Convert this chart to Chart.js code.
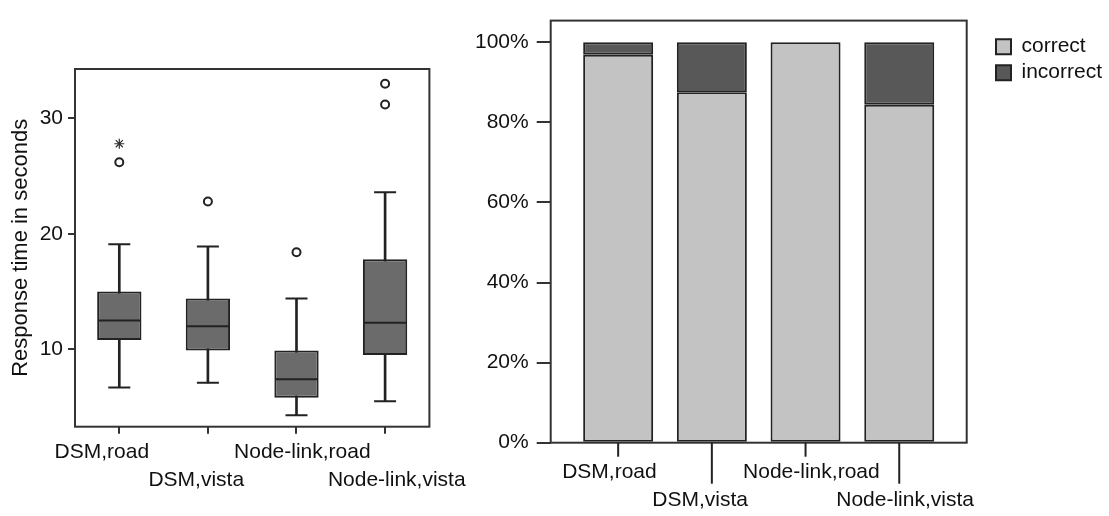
<!DOCTYPE html>
<html>
<head>
  <meta charset="UTF-8">
  <title>Response time and accuracy</title>
  <script src="https://cdn.jsdelivr.net/npm/chart.js"></script>
  <style>
    body { margin: 0; background: #fff; }
    #wrap { position: relative; width: 1109px; height: 516px; }
    #box { position: absolute; left: 0; top: 0; }
    #acc { position: absolute; left: 465px; top: 0; }
  </style>
</head>
<body>
  <div id="wrap">
    <canvas id="box" width="475" height="516"></canvas>
    <canvas id="acc" width="644" height="516"></canvas>
  </div>

  <script>
    const conditions = ['DSM,road', 'DSM,vista', 'Node-link,road', 'Node-link,vista'];

    // left: response time box plots (seconds)
    const whiskerLow = [6.7, 7.1, 4.3, 5.5];
    const q1 = [10.8, 9.9, 5.8, 9.5];
    const median = [12.5, 12.0, 7.4, 12.3];
    const q3 = [15.0, 14.4, 9.9, 17.8];
    const whiskerHigh = [19.1, 18.9, 14.4, 23.6];
    const outliers = [
      { x: 'DSM,road', y: 26.2 },
      { x: 'DSM,vista', y: 22.8 },
      { x: 'Node-link,road', y: 18.4 },
      { x: 'Node-link,vista', y: 31.2 },
      { x: 'Node-link,vista', y: 33.0 }
    ];
    const extremes = [{ x: 'DSM,road', y: 27.8 }];
    const timeTicks = [10, 20, 30];

    // right: share of correct / incorrect answers (%)
    const correct = [96.9, 87.5, 100, 84.4];
    const incorrect = [3.1, 12.5, 0, 15.6];
    const pctTicks = [0, 20, 40, 60, 80, 100];

    Chart.defaults.font.family = '"Liberation Sans", Arial, sans-serif';
    Chart.defaults.font.size = 21;
    Chart.defaults.color = '#111';
    Chart.defaults.animation = false;
    Chart.defaults.plugins.tooltip.enabled = false;

    const INK = '#222';

    // box round the plot area
    const frame = {
      id: 'frame',
      afterDraw(chart) {
        const { ctx, chartArea: a } = chart;
        ctx.save();
        ctx.strokeStyle = '#333';
        ctx.lineWidth = 2;
        ctx.strokeRect(a.left, a.top, a.right - a.left, a.bottom - a.top);
        ctx.restore();
      }
    };

    // staggered labels: every second one on a second line; the original
    // labels sit a little off their ticks, nudged here with spaces (+ right, - left)
    const stagger = (i, nudge) => {
      const n = nudge[i];
      const s = n > 0 ? ' '.repeat(n) + conditions[i] : conditions[i] + ' '.repeat(-n);
      return i % 2 ? ['', s] : s;
    };

    new Chart(document.getElementById('box'), {
      type: 'bar',
      data: {
        labels: conditions,
        datasets: [
          {
            label: 'whisker',
            data: conditions.map((c, i) => [whiskerLow[i], whiskerHigh[i]]),
            backgroundColor: INK,
            barThickness: 2,
            grouped: false,
            order: 3
          },
          {
            label: 'box',
            data: conditions.map((c, i) => [q1[i], q3[i]]),
            backgroundColor: '#6b6b6b',
            borderColor: INK,
            borderWidth: 2,
            borderSkipped: false,
            barPercentage: 0.5,
            categoryPercentage: 1,
            grouped: false,
            order: 2
          },
          {
            type: 'line', label: 'median', data: median, showLine: false,
            pointStyle: 'line', pointRadius: 21, borderColor: INK, pointBorderWidth: 2, order: 1
          },
          {
            type: 'line', label: 'upper cap', data: whiskerHigh, showLine: false,
            pointStyle: 'line', pointRadius: 11, borderColor: INK, pointBorderWidth: 2, order: 1
          },
          {
            type: 'line', label: 'lower cap', data: whiskerLow, showLine: false,
            pointStyle: 'line', pointRadius: 11, borderColor: INK, pointBorderWidth: 2, order: 1
          },
          {
            type: 'line', label: 'outliers', data: outliers, showLine: false,
            pointStyle: 'circle', pointRadius: 4, pointBackgroundColor: '#fff',
            pointBorderColor: INK, pointBorderWidth: 2, order: 1
          },
          {
            type: 'line', label: 'extremes', data: extremes, showLine: false,
            pointStyle: 'star', pointRadius: 5, pointBorderColor: '#333', pointBorderWidth: 1.2, order: 1
          }
        ]
      },
      options: {
        responsive: false,
        layout: { padding: { top: 69, right: 43, left: 0, bottom: 0 } },
        plugins: { legend: { display: false } },
        scales: {
          x: {
            grid: { offset: false, drawOnChartArea: false, tickLength: 7, color: '#333', lineWidth: 2 },
            border: { display: false },
            ticks: {
              autoSkip: false, maxRotation: 0, minRotation: 0, padding: 4,
              font: { lineHeight: 1.35 },
              callback: (v, i) => stagger(i, [-6, -4, 2, 4])
            },
            afterFit: (s) => { s.height = 89.3; }
          },
          y: {
            min: 3.3,
            max: 34.27,
            afterBuildTicks: (s) => { s.ticks = timeTicks.map(v => ({ value: v })); },
            grid: { drawOnChartArea: false, tickLength: 7, color: '#333', lineWidth: 2 },
            border: { display: false },
            ticks: { padding: 5 },
            title: {
              display: true, text: 'Response time in seconds',
              font: { size: 22 }, padding: { top: 8, bottom: 0 }
            },
            afterFit: (s) => { s.width = 75; }
          }
        }
      },
      plugins: [frame]
    });

    // long / short tick marks under the stacked bars
    const barTicks = {
      id: 'barTicks',
      afterDraw(chart) {
        const { ctx, chartArea, scales: { x } } = chart;
        ctx.save();
        ctx.strokeStyle = INK;
        ctx.lineWidth = 2;
        x.ticks.forEach((t, i) => {
          const px = x.getPixelForValue(t.value);
          ctx.beginPath();
          ctx.moveTo(px, chartArea.bottom);
          ctx.lineTo(px, chartArea.bottom + (i % 2 ? 41 : 14));
          ctx.stroke();
        });
        ctx.restore();
      }
    };

    new Chart(document.getElementById('acc'), {
      type: 'bar',
      data: {
        datasets: [
          {
            label: 'correct',
            data: correct.map((v, i) => ({ x: i, y: v })),
            backgroundColor: '#c3c3c3',
            borderColor: INK,
            borderWidth: 2,
            borderSkipped: false,
            grouped: false,
            barPercentage: 0.747,
            categoryPercentage: 1
          },
          {
            label: 'incorrect',
            data: incorrect.map((v, i) => ({ x: i, y: v })),
            backgroundColor: '#585858',
            borderColor: INK,
            borderWidth: 2,
            borderSkipped: false,
            grouped: false,
            barPercentage: 0.747,
            categoryPercentage: 1
          }
        ]
      },
      options: {
        responsive: false,
        layout: { padding: { top: 6, right: 3, left: 0, bottom: 0 } },
        plugins: {
          legend: {
            position: 'right',
            align: 'start',
            maxWidth: 115,
            title: { display: true, text: ' ', padding: 0 },
            labels: { boxWidth: 15, boxHeight: 15, padding: 5, color: '#111' }
          }
        },
        scales: {
          x: {
            type: 'linear',
            offset: false,
            min: -0.72,
            max: 3.72,
            afterBuildTicks: (s) => { s.ticks = conditions.map((c, i) => ({ value: i })); },
            grid: { display: false, drawTicks: false },
            border: { display: false },
            ticks: {
              autoSkip: false, maxRotation: 0, minRotation: 0, padding: 15,
              font: { lineHeight: 1.35 },
              callback: (v, i) => stagger(i, [-3, -4, 2, 2])
            },
            afterFit: (s) => { s.height = 73.3; }
          },
          y: {
            stacked: true,
            min: 0,
            max: 105.4,
            afterBuildTicks: (s) => { s.ticks = pctTicks.map(v => ({ value: v })); },
            grid: { drawOnChartArea: false, tickLength: 14, color: '#333', lineWidth: 2 },
            border: { display: false },
            ticks: { padding: 8, callback: (v) => v + '%' },
            afterFit: (s) => { s.width = 85.7; }
          },
          gap: {
            type: 'linear',
            position: 'right',
            display: true,
            grid: { display: false, drawTicks: false },
            border: { display: false },
            ticks: { display: false },
            afterFit: (s) => { s.width = 24.3; }
          }
        }
      },
      plugins: [frame, barTicks]
    });
  </script>
</body>
</html>
